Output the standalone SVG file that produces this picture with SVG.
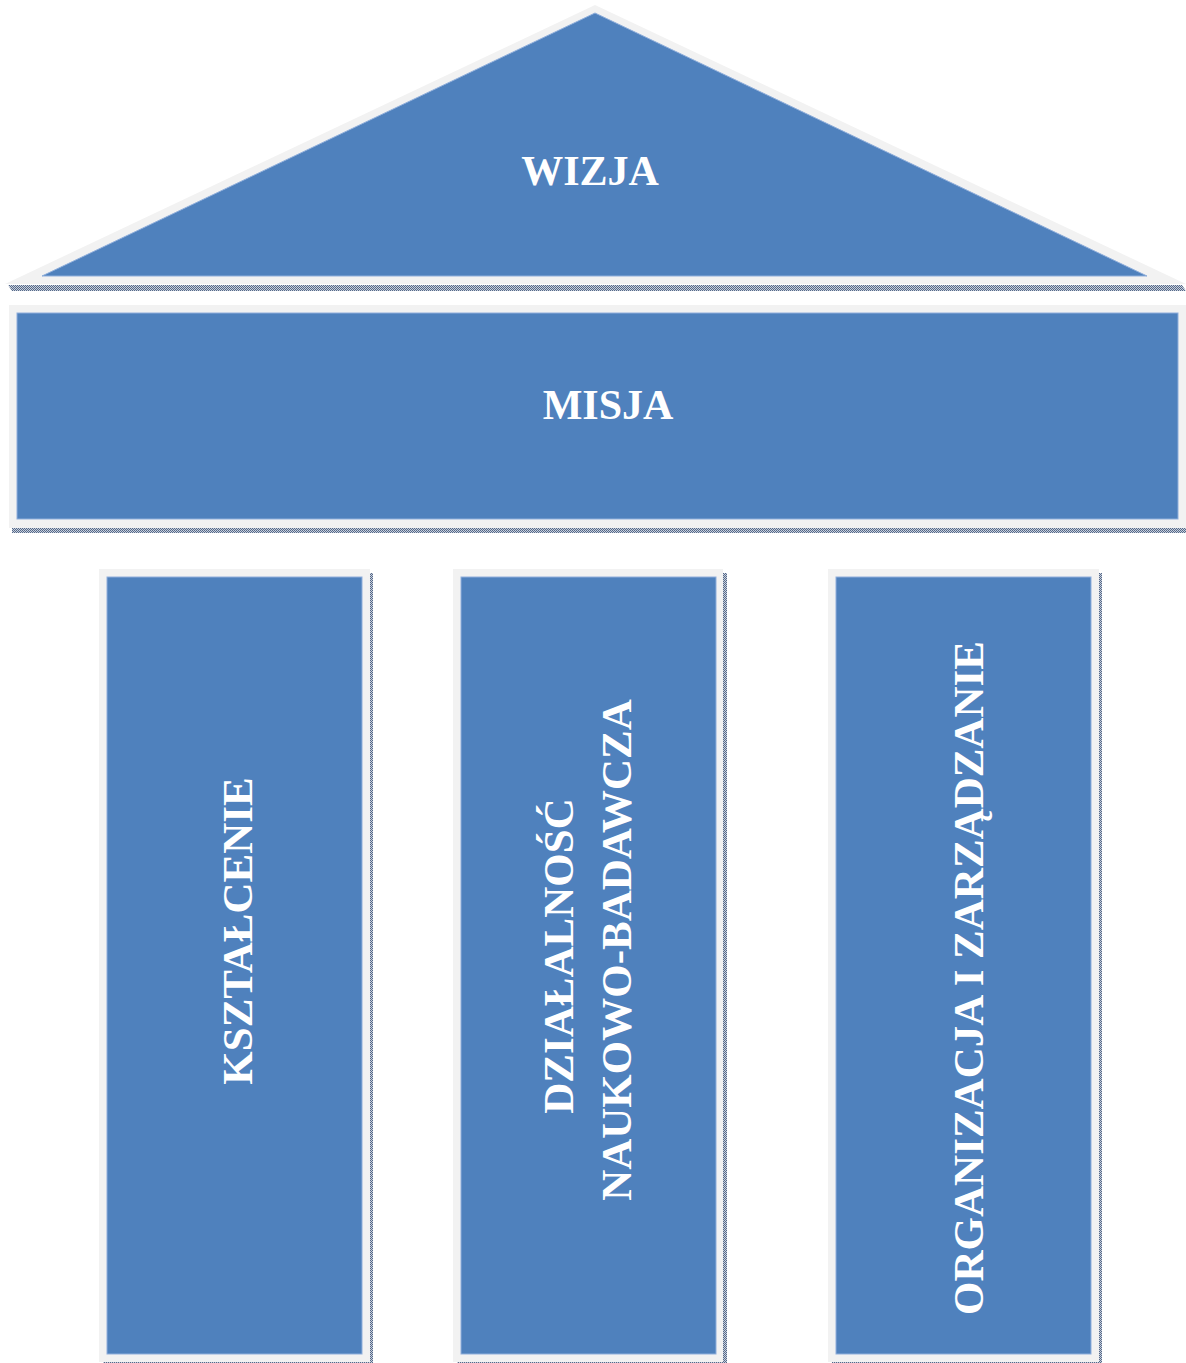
<svg xmlns="http://www.w3.org/2000/svg" width="1186" height="1363" viewBox="0 0 1186 1363">
<defs>
<pattern id="dots" width="2" height="2" patternUnits="userSpaceOnUse">
<rect width="2" height="2" fill="#C9D0DB"/>
<rect width="1" height="1" fill="#55698A"/>
<rect x="1" y="1" width="1" height="1" fill="#55698A"/>
</pattern>
</defs>
<style>
.frame{fill:#F2F2F2}
.blue{fill:#4F81BD;stroke:#8FAEDB;stroke-width:1}
.shadow{fill:url(#dots)}
.lbl{font-family:"Liberation Serif","Times New Roman",serif;font-weight:bold;font-size:42px;fill:#FFFFFF;text-anchor:middle}
.v{font-size:43px}
</style>
<rect width="1186" height="1363" fill="#FFFFFF"/>
<g id="wizja">
<polygon class="shadow" points="8,285 1182,285 1186,291 12,291"/>
<polygon class="frame" points="5,284 595,5 1186,284"/>
<polygon class="blue" points="42,276 595,13 1147,276"/>
<text class="lbl" x="590" y="185">WIZJA</text>
</g>
<g id="misja">
<rect class="shadow" x="12" y="528" width="1174" height="5"/>
<rect class="frame" x="9" y="305" width="1177" height="223"/>
<rect class="blue" x="17" y="313" width="1161" height="206"/>
<text class="lbl" x="608" y="419">MISJA</text>
</g>
<g id="ksztalcenie">
<rect class="shadow" x="103" y="573" width="270" height="790"/>
<rect class="frame" x="99" y="569" width="271" height="793"/>
<rect class="blue" x="107" y="577" width="255" height="777"/>
<text class="lbl v" transform="translate(252,931) rotate(-90)">KSZTAŁCENIE</text>
</g>
<g id="dzialalnosc">
<rect class="shadow" x="457" y="573" width="270" height="790"/>
<rect class="frame" x="453" y="569" width="270" height="793"/>
<rect class="blue" x="461" y="577" width="255" height="777"/>
<text class="lbl v" transform="translate(573,956) rotate(-90)">DZIAŁALNOŚĆ</text>
<text class="lbl v" transform="translate(631,950) rotate(-90)">NAUKOWO-BADAWCZA</text>
</g>
<g id="organizacja">
<rect class="shadow" x="832" y="573" width="270" height="790"/>
<rect class="frame" x="828" y="569" width="271" height="793"/>
<rect class="blue" x="836" y="577" width="255" height="777"/>
<text class="lbl v" transform="translate(983,978) rotate(-90)">ORGANIZACJA I ZARZĄDZANIE</text>
</g>
<g id="connectors"/>
</svg>
